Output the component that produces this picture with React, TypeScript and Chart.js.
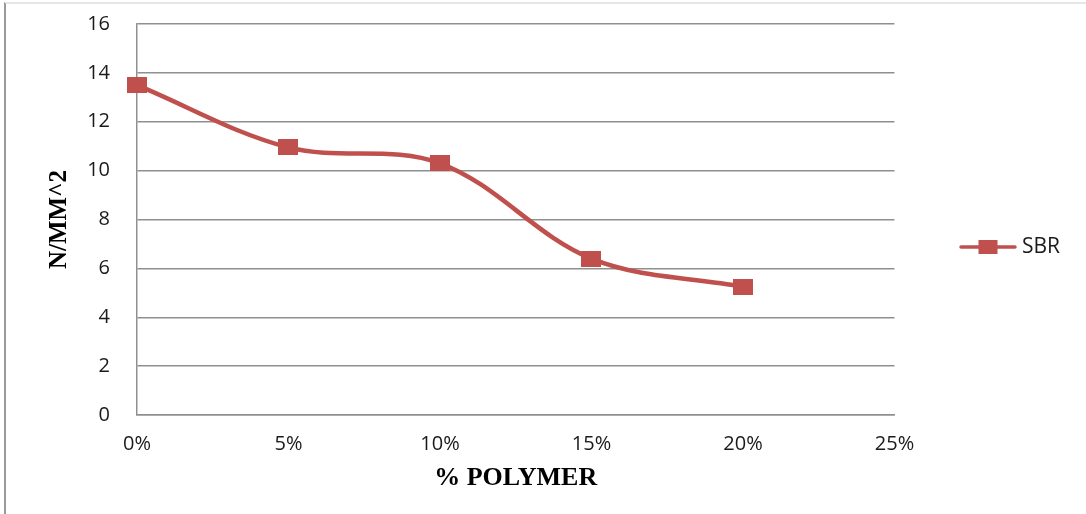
import { useEffect, useRef } from "react";
import { Chart, registerables } from "chart.js";

Chart.register(...registerables);

// Polymer content (x axis categories) and measured strength of the SBR mix
const categories = ["0%", "5%", "10%", "15%", "20%", "25%"];
const sbrValues = [13.5, 10.95, 10.3, 6.4, 5.25];
const seriesName = "SBR";

const yMin = 0;
const yMax = 16;
const yStep = 2;

const SERIES_COLOR = "#C0504D";
const GRID_COLOR = "#8f8f8f";
const TEXT_COLOR = "#1a1a1a";

// Filled rectangular marker used for each data point
function makeMarker(w: number, h: number, color: string) {
  const c = document.createElement("canvas");
  c.width = w;
  c.height = h;
  const ctx = c.getContext("2d")!;
  ctx.fillStyle = color;
  ctx.fillRect(0, 0, w, h);
  return c;
}

// Legend symbol: a short line segment with the marker on top
function makeLegendSymbol(w: number, h: number, mw: number, mh: number, color: string) {
  const c = document.createElement("canvas");
  c.width = w;
  c.height = h;
  const ctx = c.getContext("2d")!;
  ctx.strokeStyle = color;
  ctx.lineWidth = 3.5;
  ctx.lineCap = "round";
  ctx.beginPath();
  ctx.moveTo(2, h / 2);
  ctx.lineTo(w - 2, h / 2);
  ctx.stroke();
  ctx.fillStyle = color;
  ctx.fillRect((w - mw) / 2, (h - mh) / 2, mw, mh);
  return c;
}

export default function App() {
  const canvasRef = useRef<HTMLCanvasElement | null>(null);

  useEffect(() => {
    if (!canvasRef.current) return;
    const marker = makeMarker(20, 16, SERIES_COLOR);
    const legendSymbol = makeLegendSymbol(58, 16, 19, 14, SERIES_COLOR);

    const chart = new Chart(canvasRef.current, {
      type: "line",
      data: {
        labels: categories,
        datasets: [
          {
            label: seriesName,
            data: sbrValues,
            borderColor: SERIES_COLOR,
            backgroundColor: SERIES_COLOR,
            borderWidth: 4.5,
            tension: 0.35,
            pointStyle: marker as any,
            pointRadius: 10,
            pointHoverRadius: 10,
            fill: false,
            clip: false as any,
          },
        ],
      },
      options: {
        responsive: false,
        animation: false,
        layout: { padding: { left: 0, top: 10, right: 16, bottom: 30 } },
        plugins: {
          tooltip: { enabled: false },
          legend: {
            position: "right",
            labels: {
              usePointStyle: true,
              pointStyle: legendSymbol as any,
              pointStyleWidth: 47,
              padding: 70,
              color: TEXT_COLOR,
              font: { family: "'Open Sans'", size: 21 },
            },
          },
        },
        scales: {
          x: {
            type: "category",
            offset: false,
            grid: { display: false, drawTicks: false },
            border: { display: true, color: GRID_COLOR, width: 1.5 },
            ticks: {
              autoSkip: false,
              maxRotation: 0,
              padding: 17,
              color: TEXT_COLOR,
              font: { family: "'Open Sans'", size: 20 },
            },
            title: {
              display: true,
              text: "% POLYMER",
              color: "#000",
              font: { family: "'Liberation Serif'", size: 26, weight: "bold" },
              padding: { top: 0, bottom: -10 },
            },
            afterFit: (scale: any) => {
              scale.height = 69;
            },
          },
          y: {
            min: yMin,
            max: yMax,
            ticks: {
              stepSize: yStep,
              padding: 27,
              color: TEXT_COLOR,
              font: { family: "'Open Sans'", size: 20 },
            },
            grid: { color: GRID_COLOR, lineWidth: 1.5, drawTicks: false },
            border: { display: true, color: GRID_COLOR, width: 1.5 },
            title: {
              display: true,
              text: "N/MM^2",
              color: "#000",
              font: { family: "'Liberation Serif'", size: 25, weight: "bold" },
              padding: { top: 45, bottom: 0 },
            },
            afterFit: (scale: any) => {
              scale.width = 137;
              // fixed inset above the plot; the tick gap should not widen it
              scale.paddingTop = 24;
              scale.paddingBottom = 0;
            },
          },
        },
      },
    });

    return () => chart.destroy();
  }, []);

  return (
    <div
      style={{
        position: "fixed",
        left: 0,
        top: 0,
        width: 1086,
        height: 514,
        background: "#fff",
      }}
    >
      <div
        style={{
          position: "absolute",
          left: 4,
          top: 2,
          right: 0,
          bottom: 0,
          borderLeft: "2px solid #9a9a9a",
          borderTop: "2px solid #e6e6e6",
        }}
      />
      <canvas
        ref={canvasRef}
        width={1086}
        height={514}
        style={{ position: "absolute", left: 0, top: 0, display: "block" }}
      />
    </div>
  );
}
